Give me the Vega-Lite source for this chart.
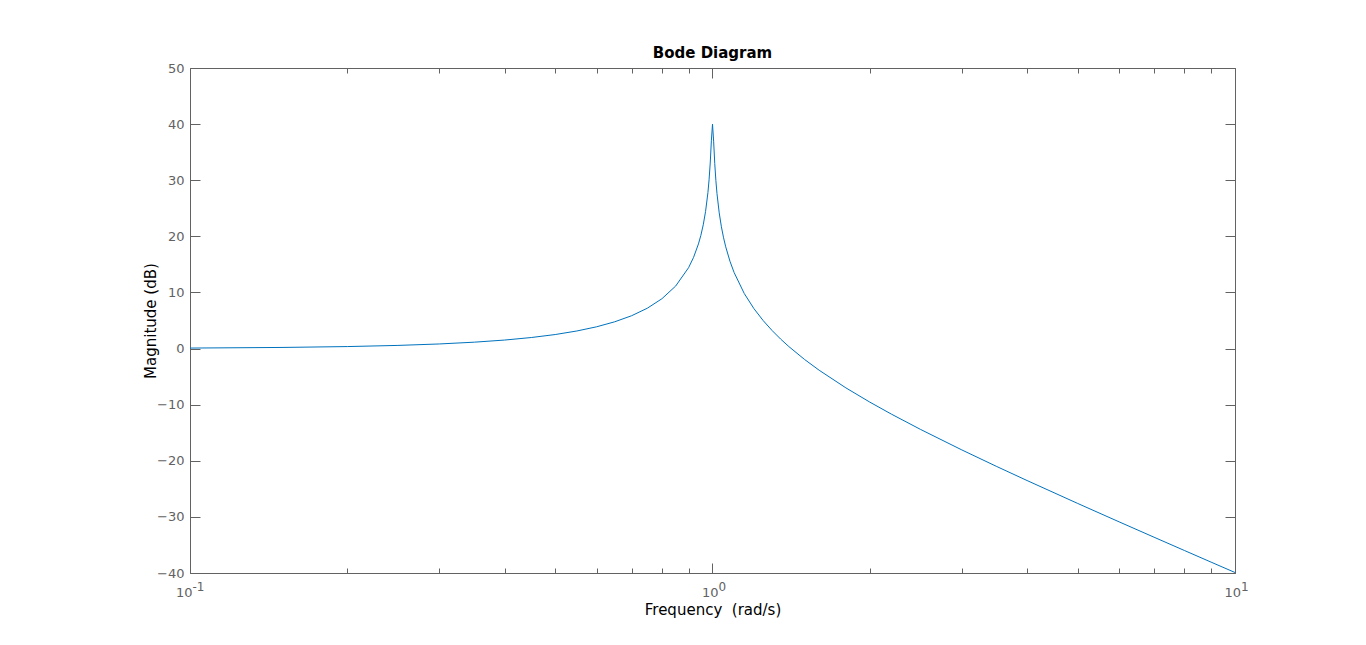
{
  "$schema": "https://vega.github.io/schema/vega-lite/v6.json",
  "autosize": "none",
  "width": 1045,
  "height": 505,
  "padding": {"left": 190, "top": 68, "right": 131, "bottom": 72},
  "background": "white",
  "config": {
    "view": {"stroke": null},
    "font": "DejaVu Sans",
    "axis": {
      "grid": false,
      "domainColor": "#626262",
      "tickColor": "#626262",
      "labelColor": "#626262",
      "labelFont": "DejaVu Sans",
      "titleFont": "DejaVu Sans",
      "titleColor": "#000000",
      "titleFontWeight": "normal",
      "titleFontSize": 15,
      "labelFontSize": 13,
      "domainWidth": 1,
      "tickWidth": 1
    }
  },
  "title": {
    "text": "Bode Diagram",
    "font": "DejaVu Sans",
    "fontSize": 15,
    "fontWeight": "bold",
    "color": "#000000",
    "anchor": "middle",
    "baseline": "alphabetic",
    "offset": -11
  },
  "data": {
    "values": [
      {"freq": 0.1, "mag": 0.087},
      {"freq": 0.15, "mag": 0.198},
      {"freq": 0.2, "mag": 0.355},
      {"freq": 0.25, "mag": 0.561},
      {"freq": 0.3, "mag": 0.819},
      {"freq": 0.35, "mag": 1.135},
      {"freq": 0.4, "mag": 1.514},
      {"freq": 0.45, "mag": 1.965},
      {"freq": 0.5, "mag": 2.499},
      {"freq": 0.55, "mag": 3.129},
      {"freq": 0.6, "mag": 3.876},
      {"freq": 0.65, "mag": 4.769},
      {"freq": 0.7, "mag": 5.849},
      {"freq": 0.75, "mag": 7.18},
      {"freq": 0.8, "mag": 8.872},
      {"freq": 0.85, "mag": 11.131},
      {"freq": 0.9, "mag": 14.415},
      {"freq": 0.92, "mag": 16.256},
      {"freq": 0.94, "mag": 18.653},
      {"freq": 0.95, "mag": 20.179},
      {"freq": 0.96, "mag": 22.049},
      {"freq": 0.97, "mag": 24.453},
      {"freq": 0.98, "mag": 27.788},
      {"freq": 0.985, "mag": 30.072},
      {"freq": 0.99, "mag": 33.063},
      {"freq": 0.995, "mag": 37.022},
      {"freq": 1.0, "mag": 40.0},
      {"freq": 1.005, "mag": 36.957},
      {"freq": 1.01, "mag": 32.958},
      {"freq": 1.015, "mag": 29.929},
      {"freq": 1.02, "mag": 27.605},
      {"freq": 1.03, "mag": 24.185},
      {"freq": 1.04, "mag": 21.696},
      {"freq": 1.05, "mag": 19.74},
      {"freq": 1.06, "mag": 18.128},
      {"freq": 1.08, "mag": 15.559},
      {"freq": 1.1, "mag": 13.544},
      {"freq": 1.15, "mag": 9.824},
      {"freq": 1.2, "mag": 7.128},
      {"freq": 1.25, "mag": 4.997},
      {"freq": 1.3, "mag": 3.223},
      {"freq": 1.35, "mag": 1.697},
      {"freq": 1.4, "mag": 0.355},
      {"freq": 1.5, "mag": -1.938},
      {"freq": 1.6, "mag": -3.863},
      {"freq": 1.8, "mag": -7.005},
      {"freq": 2.0, "mag": -9.542},
      {"freq": 2.2, "mag": -11.687},
      {"freq": 2.5, "mag": -14.403},
      {"freq": 3.0, "mag": -18.062},
      {"freq": 3.5, "mag": -21.023},
      {"freq": 4.0, "mag": -23.522},
      {"freq": 5.0, "mag": -27.604},
      {"freq": 6.0, "mag": -30.881},
      {"freq": 7.0, "mag": -33.625},
      {"freq": 8.0, "mag": -35.987},
      {"freq": 9.0, "mag": -38.062},
      {"freq": 10.0, "mag": -39.913}
    ]
  },
  "resolve": {"axis": {"x": "independent", "y": "independent"}},
  "layer": [
    {
      "mark": {"type": "line", "color": "#0072BD", "strokeWidth": 1, "interpolate": "linear", "clip": true},
      "encoding": {
        "x": {
          "field": "freq", "type": "quantitative",
          "scale": {"type": "log", "domain": [0.1, 10], "nice": false},
          "axis": {"orient": "bottom", "values": [0.1, 1, 10], "tickSize": -10, "labels": false, "domain": true, "title": null}
        },
        "y": {
          "field": "mag", "type": "quantitative",
          "scale": {"domain": [-40, 50], "nice": false, "zero": false},
          "axis": {"orient": "left", "values": [-40, -30, -20, -10, 0, 10, 20, 30, 40, 50], "tickSize": -10, "labels": false, "domain": true, "title": null}
        }
      }
    },
    {
      "mark": {"type": "line", "strokeOpacity": 0},
      "encoding": {
        "x": {
          "field": "freq", "type": "quantitative",
          "axis": {"orient": "bottom", "values": [0.2, 0.3, 0.4, 0.5, 0.6, 0.7, 0.8, 0.9, 2, 3, 4, 5, 6, 7, 8, 9], "tickSize": -5, "labels": false, "domain": false, "title": null}
        },
        "y": {
          "field": "mag", "type": "quantitative",
          "axis": {"orient": "left", "values": [-40, -30, -20, -10, 0, 10, 20, 30, 40, 50], "ticks": false, "domain": false, "labelPadding": 6, "labelAlign": "right", "labelBaseline": "middle", "title": "Magnitude (dB)", "titlePadding": -2}
        }
      }
    },
    {
      "mark": {"type": "line", "strokeOpacity": 0},
      "encoding": {
        "x": {
          "field": "freq", "type": "quantitative",
          "axis": {"orient": "top", "values": [0.1, 1, 10], "tickSize": -10, "labels": false, "domain": true, "title": null}
        },
        "y": {
          "field": "mag", "type": "quantitative",
          "axis": {"orient": "right", "values": [-40, -30, -20, -10, 0, 10, 20, 30, 40, 50], "tickSize": -10, "labels": false, "domain": true, "title": null}
        }
      }
    },
    {
      "mark": {"type": "line", "strokeOpacity": 0},
      "encoding": {
        "x": {
          "field": "freq", "type": "quantitative",
          "axis": {"orient": "top", "values": [0.2, 0.3, 0.4, 0.5, 0.6, 0.7, 0.8, 0.9, 2, 3, 4, 5, 6, 7, 8, 9], "tickSize": -5, "labels": false, "domain": false, "title": null}
        },
        "y": {"field": "mag", "type": "quantitative", "axis": null}
      }
    },
    {
      "mark": {"type": "line", "strokeOpacity": 0},
      "encoding": {
        "x": {
          "field": "freq", "type": "quantitative",
          "axis": {
            "orient": "bottom", "values": [0.1, 1, 10], "ticks": false, "domain": false,
            "labelExpr": "'10'", "labelAlign": "right", "labelBaseline": "alphabetic",
            "labelPadding": 23, "labelFontSize": 13, "labelFlush": false, "labelOverlap": false,
            "labelOffset": {"condition": {"test": "datum.value < 0.5", "value": 2}, "value": 5.5},
            "title": "Frequency \u00a0(rad/s)", "titleBaseline": "alphabetic", "titlePadding": 15
          }
        },
        "y": {"field": "mag", "type": "quantitative", "axis": null}
      }
    },
    {
      "mark": {"type": "line", "strokeOpacity": 0},
      "encoding": {
        "x": {
          "field": "freq", "type": "quantitative",
          "axis": {
            "orient": "bottom", "values": [0.1, 1, 10], "ticks": false, "domain": false,
            "labelExpr": "datum.value < 0.5 ? '-1' : (datum.value < 5 ? '0' : '1')",
            "labelAlign": "left", "labelBaseline": "alphabetic",
            "labelPadding": 17, "labelFontSize": 12, "labelFlush": false, "labelOverlap": false,
            "labelOffset": {"condition": {"test": "datum.value < 0.5", "value": 2}, "value": 5.5},
            "title": null
          }
        },
        "y": {"field": "mag", "type": "quantitative", "axis": null}
      }
    }
  ]
}
